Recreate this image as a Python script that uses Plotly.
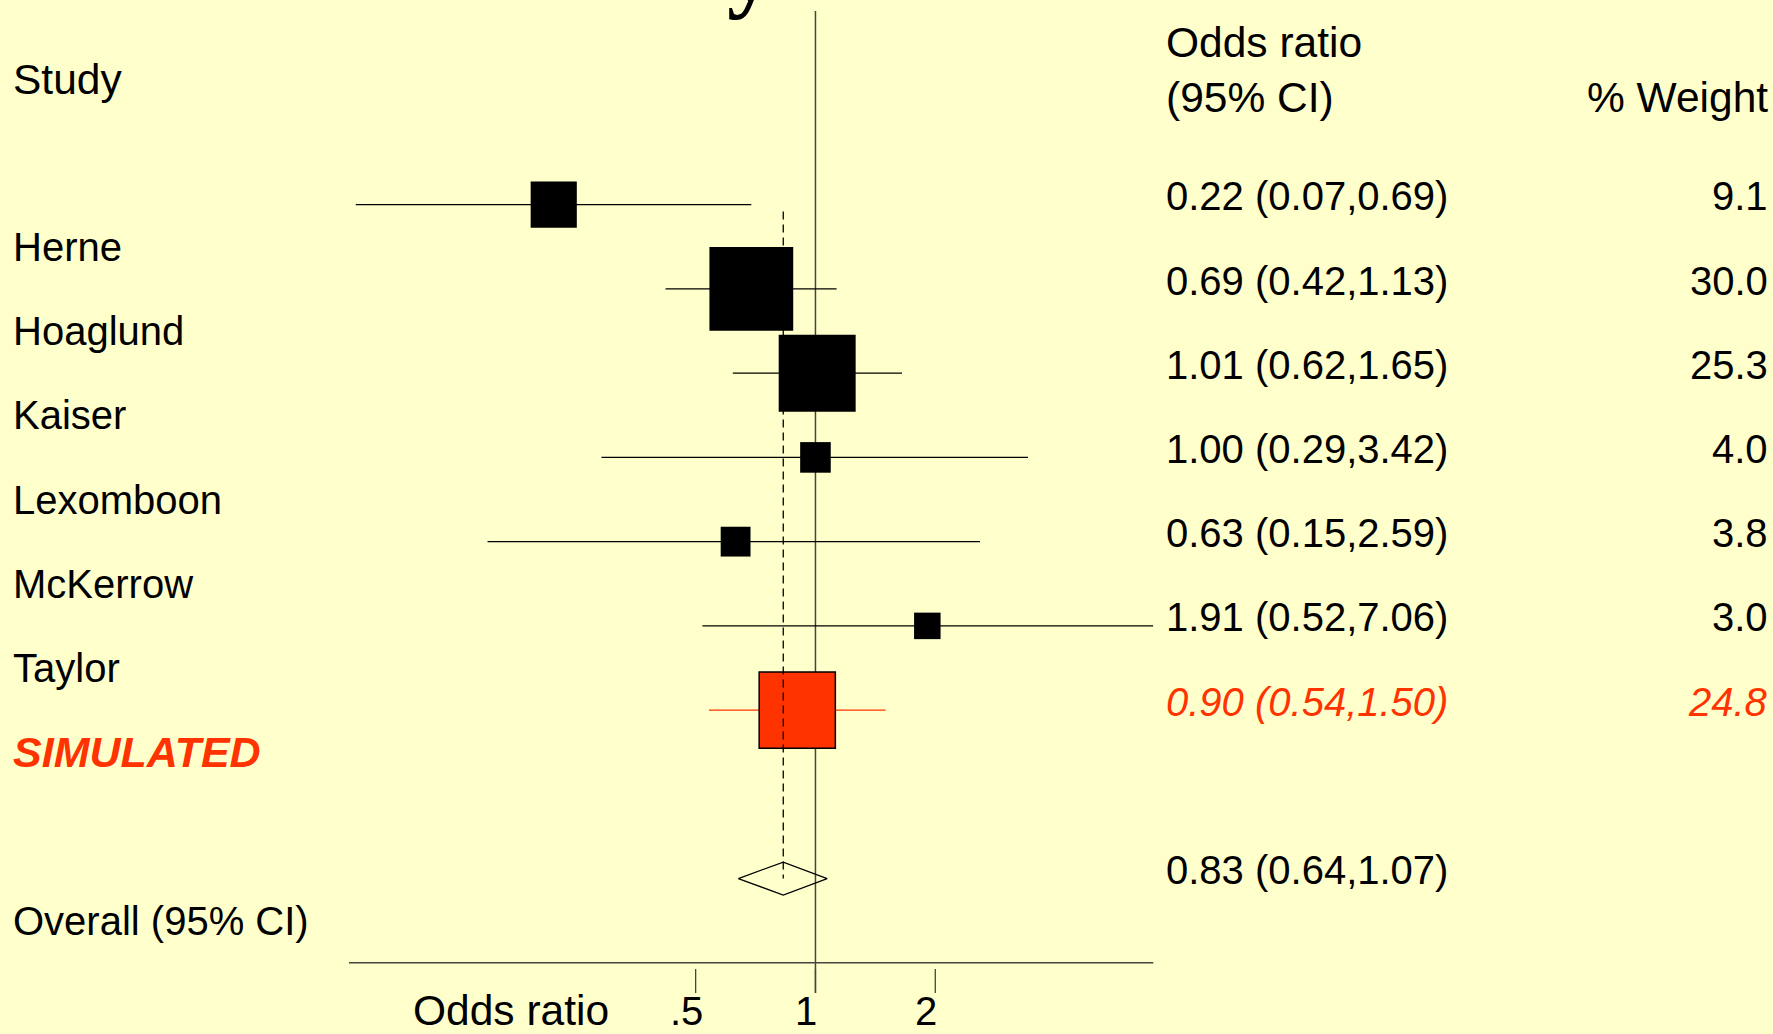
import math
import plotly.graph_objects as go

# ---------------- data ----------------
studies = ["Herne", "Hoaglund", "Kaiser", "Lexomboon", "McKerrow", "Taylor", "SIMULATED"]
odds_ratio = [0.22, 0.69, 1.01, 1.00, 0.63, 1.91, 0.90]
ci_low = [0.07, 0.42, 0.62, 0.29, 0.15, 0.52, 0.54]
ci_high = [0.69, 1.13, 1.65, 3.42, 2.59, 7.06, 1.50]
weights = [9.1, 30.0, 25.3, 4.0, 3.8, 3.0, 24.8]
highlight = [False, False, False, False, False, False, True]

overall_label = "Overall (95% CI)"
overall_or = 0.83
overall_low = 0.64
overall_high = 1.07

tick_values = [0.5, 1, 2]
tick_labels = [".5", "1", "2"]

# ---------------- style ----------------
W, H = 1773, 1034
BG = "#FFFFCC"
RED = "#FF3300"
FONT = "Liberation Sans, Arial, sans-serif"
FS = 40
FS_HEAD = 42.5

rows = list(range(len(studies)))
overall_row = len(studies) + 1

def px_x(p):
    return p / W

fig = go.Figure()

# CI lines
for hl, col in [(False, "black"), (True, RED)]:
    xs, ys = [], []
    for r, lo, hi, h in zip(rows, ci_low, ci_high, highlight):
        if h == hl:
            xs += [lo, hi, None]
            ys += [r, r, None]
    fig.add_trace(go.Scatter(x=xs, y=ys, mode="lines",
                             line=dict(color=col, width=1.3),
                             hoverinfo="skip", showlegend=False))

# Boxes (area proportional to weight)
for hl, col, lw in [(False, "black", 0), (True, RED, 1.5)]:
    xs = [o for o, h in zip(odds_ratio, highlight) if h == hl]
    ys = [r for r, h in zip(rows, highlight) if h == hl]
    ss = [15.3 * math.sqrt(w) for w, h in zip(weights, highlight) if h == hl]
    fig.add_trace(go.Scatter(x=xs, y=ys, mode="markers",
                             marker=dict(symbol="square", size=ss, color=col, opacity=1,
                                         line=dict(color="black", width=lw)),
                             hoverinfo="skip", showlegend=False))

# Overall diamond
dh = 0.196
fig.add_trace(go.Scatter(
    x=[overall_low, overall_or, overall_high, overall_or, overall_low],
    y=[overall_row, overall_row - dh, overall_row, overall_row + dh, overall_row],
    mode="lines", line=dict(color="black", width=1.3),
    hoverinfo="skip", showlegend=False))

shapes = []
line_col = "#444440"
# vertical line at OR = 1
shapes.append(dict(type="line", xref="x", yref="y", x0=1, x1=1, y0=-2.30, y1=9.358,
                   line=dict(color=line_col, width=1.5), layer="below"))
# dashed line at overall OR
shapes.append(dict(type="line", xref="x", yref="y",
                   x0=overall_or, x1=overall_or,
                   y0=0.08, y1=overall_row,
                   line=dict(color="black", width=1.3, dash="8px,5px"), layer="above"))
# x axis line
shapes.append(dict(type="line", xref="x domain", yref="y", x0=0, x1=1, y0=9.0, y1=9.0,
                   line=dict(color=line_col, width=1.5)))
# ticks
for tv in tick_values:
    shapes.append(dict(type="line", xref="x", yref="y",
                       x0=tv, x1=tv, y0=9.073, y1=9.358,
                       line=dict(color=line_col, width=1.3)))

ann = []
def txt(text, x, y, xanchor="left", xref="paper", yref="y", size=FS, color="black",
        family=FONT, xshift=0, yanchor="middle"):
    ann.append(dict(text=text, x=x, y=y, xref=xref, yref=yref, xanchor=xanchor,
                    yanchor=yanchor, showarrow=False, borderpad=0, borderwidth=0,
                    xshift=xshift, font=dict(size=size, color=color, family=family)))

# headers
txt("Study", px_x(13), -1.49, size=FS_HEAD)
txt("Odds ratio", px_x(1166), -1.92, size=FS_HEAD)
txt("(95% CI)", px_x(1166), -1.276, size=FS_HEAD)
txt("% Weight", px_x(1768), -1.276, xanchor="right", size=FS_HEAD)

# left labels and right columns
for r, name, o, lo, hi, w, hl in zip(rows, studies, odds_ratio, ci_low, ci_high, weights, highlight):
    if hl:
        txt(f"<b><i>{name}</i></b>", px_x(13), r + 0.5, size=43, color=RED)
        txt(f"<i>{o:.2f} ({lo:.2f},{hi:.2f})</i>", px_x(1166), r - 0.1, color=RED)
        txt(f"<i>{w:.1f}</i>", px_x(1768), r - 0.1, xanchor="right", color=RED)
    else:
        txt(name, px_x(13), r + 0.5)
        txt(f"{o:.2f} ({lo:.2f},{hi:.2f})", px_x(1166), r - 0.1)
        txt(f"{w:.1f}", px_x(1768), r - 0.1, xanchor="right")

txt(overall_label, px_x(13), overall_row + 0.5)
txt(f"{overall_or:.2f} ({overall_low:.2f},{overall_high:.2f})", px_x(1166), overall_row - 0.1)

# tick labels and axis title
for tv, tl in zip(tick_values, tick_labels):
    txt(tl, math.log10(tv), 9.57, xanchor="center", xref="x", xshift=-9)
txt("Odds ratio", px_x(511), 9.57, xanchor="center", size=FS_HEAD)

# clipped title remnant at the top
txt("<b>y</b>", px_x(750), 1 - 20 / H, xanchor="center", yref="paper", size=94,
    family="Liberation Serif, Times New Roman, serif", yanchor="bottom")

fig.update_layout(
    width=W, height=H,
    margin=dict(l=0, r=0, t=0, b=0),
    paper_bgcolor=BG, plot_bgcolor=BG,
    xaxis=dict(type="log", range=[math.log10(0.0673), math.log10(7.06)],
               domain=[349 / W, 1153.3 / W], visible=False, showgrid=False),
    yaxis=dict(range=[9.845, -2.430], domain=[0, 1], visible=False, showgrid=False),
    shapes=shapes, annotations=ann, showlegend=False,
)

fig.write_html("out.html", config={"displayModeBar": False},
               post_script="document.body.style.margin='0';document.body.style.overflow='hidden';document.body.style.background='#FFFFCC';")
